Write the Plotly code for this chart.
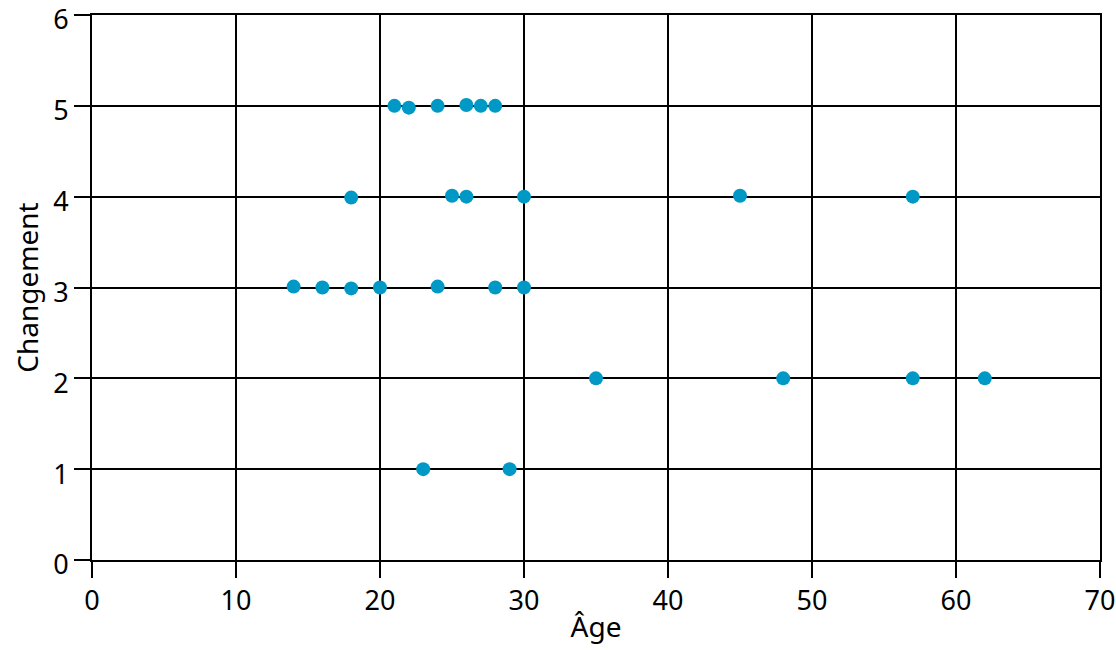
import plotly.graph_objects as go

ages = [21, 22, 24, 26, 27, 28,
        18, 25, 26, 30, 45, 57,
        14, 16, 18, 20, 24, 28, 30,
        35, 48, 57, 62,
        23, 29]
changement = [5.0, 4.98, 5.0, 5.01, 5.0, 5.0,
              3.99, 4.01, 4.0, 4.0, 4.01, 4.0,
              3.01, 3.0, 2.99, 3.0, 3.01, 3.0, 3.0,
              2.0, 2.0, 2.0, 2.0,
              1.0, 1.0]

x_ticks = [0, 10, 20, 30, 40, 50, 60, 70]
y_ticks = [0, 1, 2, 3, 4, 5, 6]

fig = go.Figure()
fig.add_trace(go.Scatter(
    x=ages, y=changement, mode="markers",
    marker=dict(color="#0099c6", size=14, line=dict(width=0)),
    showlegend=False, cliponaxis=False,
))

axis_common = dict(
    showgrid=True, gridcolor="black", gridwidth=2,
    showline=True, linecolor="black", linewidth=2, mirror=True,
    ticks="outside", ticklen=16, tickwidth=2, tickcolor="black",
    zeroline=False, automargin=False, ticklabeloverflow="allow",
    tickfont=dict(size=27, color="black", family="Noto Sans"),
)

fig.update_layout(
    width=1116, height=650,
    margin=dict(l=92, r=16, t=15, b=90),
    plot_bgcolor="white", paper_bgcolor="white",
    font=dict(family="Noto Sans", color="black", size=28),
    xaxis=dict(range=[0, 70], tickvals=x_ticks,
               title=dict(text="Âge", standoff=0, font=dict(size=28)),
               **axis_common),
    yaxis=dict(range=[0, 6], tickvals=y_ticks, ticklabelshift=5,
               title=dict(text="Changement", standoff=6, font=dict(size=28)),
               **axis_common),
)

fig.write_html(
    "out.html",
    config={"displayModeBar": False},
    post_script="document.body.style.margin='0';document.body.style.padding='0';",
)
